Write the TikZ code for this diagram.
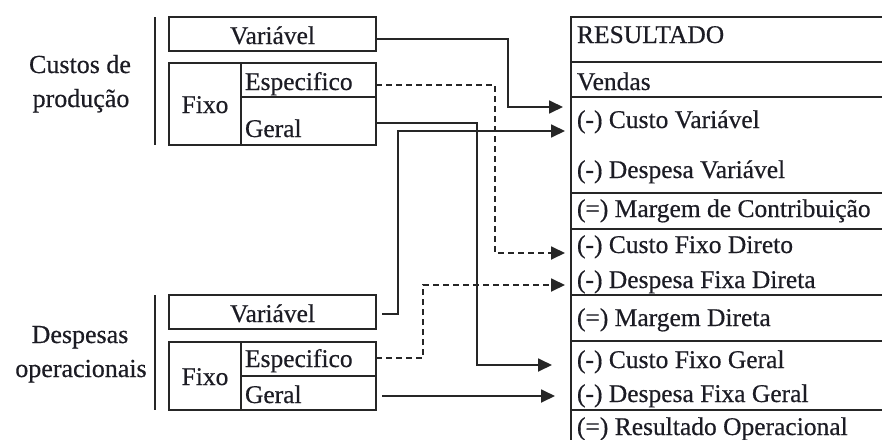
\documentclass[tikz,border=0pt]{standalone}
\usepackage{fontspec}
\setmainfont{Liberation Serif}[FakeBold=0.5]
\usetikzlibrary{arrows.meta,calc}
\definecolor{ink}{RGB}{28,28,36}
\definecolor{rulec}{RGB}{38,38,38}
\begin{document}
\begin{tikzpicture}[x=1pt,y=-1pt,
  cell/.style={draw=rulec,line width=1.8pt,inner sep=0pt,outer sep=0pt},
  txt/.style={inner sep=0pt,outer sep=0pt,text=ink,font=\fontsize{25.5}{30}\selectfont},
  lbl/.style={inner sep=0pt,outer sep=0pt,text=ink,font=\fontsize{26}{30}\selectfont},
  conn/.style={draw=rulec,line width=1.8pt,-{Triangle[length=14pt,width=13pt]}},
  dconn/.style={conn,dash pattern=on 6pt off 4pt}]
\useasboundingbox (0,0) rectangle (882,439);
\clip (0,0) rectangle (882,439);
% left labels
\node[lbl,anchor=base] (l1a) at (80,73) {Custos de};
\node[lbl,anchor=base] (l1b) at (81,107) {produção};
\node[lbl,anchor=base] (l2a) at (80,343) {Despesas};
\node[lbl,anchor=base] (l2b) at (81,377) {operacionais};
\draw[rulec,line width=1.8pt] (155,17) -- (155,145);
\draw[rulec,line width=1.8pt] (155,295) -- (155,410);
% production boxes
\node[cell,minimum width=207pt,minimum height=34pt] (cvar) at (272.5,34) {};
\node[cell,minimum width=72pt,minimum height=82pt] (cfix) at (205,104) {};
\node[cell,minimum width=135pt,minimum height=34pt] (cesp) at (308.5,80) {};
\node[cell,minimum width=135pt,minimum height=48pt] (cger) at (308.5,121) {};
\node[txt,anchor=base] (tcvar) at (272.5,44) {Variável};
\node[txt,anchor=base] (tcfix) at (205,113) {Fixo};
\node[txt,anchor=base west] (tcesp) at (245,90) {Especifico};
\node[txt,anchor=base west] (tcger) at (245,137) {Geral};
% expense boxes
\node[cell,minimum width=207pt,minimum height=34pt] (dvar) at (272.5,312) {};
\node[cell,minimum width=72pt,minimum height=68pt] (dfix) at (205,376) {};
\node[cell,minimum width=135pt,minimum height=34pt] (desp) at (308.5,359) {};
\node[cell,minimum width=135pt,minimum height=34pt] (dger) at (308.5,393) {};
\node[txt,anchor=base] (tdvar) at (272.5,322) {Variável};
\node[txt,anchor=base] (tdfix) at (205,385) {Fixo};
\node[txt,anchor=base west] (tdesp) at (245,367) {Especifico};
\node[txt,anchor=base west] (tdger) at (245,403) {Geral};
% result table rows
\node[cell,minimum width=324pt,minimum height=45pt] (r0) at (733,39.5) {};
\node[cell,minimum width=324pt,minimum height=35pt] (r1) at (733,79.5) {};
\node[cell,minimum width=324pt,minimum height=96pt] (r2) at (733,145) {};
\node[cell,minimum width=324pt,minimum height=36pt] (r3) at (733,211) {};
\node[cell,minimum width=324pt,minimum height=66pt] (r4) at (733,262) {};
\node[cell,minimum width=324pt,minimum height=46pt] (r5) at (733,318) {};
\node[cell,minimum width=324pt,minimum height=69pt] (r6) at (733,375.5) {};
\node[cell,minimum width=324pt,minimum height=60pt] (r7) at (733,440) {};
\node[txt,anchor=base west] (t0) at (577,43) {RESULTADO};
\node[txt,anchor=base west] (t1) at (577,90) {Vendas};
\node[txt,anchor=base west] (t2) at (577,128) {(-) Custo Variável};
\node[txt,anchor=base west] (t3) at (577,178) {(-) Despesa Variável};
\node[txt,anchor=base west] (t4) at (577,217) {(=) Margem de Contribuição};
\node[txt,anchor=base west] (t5) at (577,253) {(-) Custo Fixo Direto};
\node[txt,anchor=base west] (t6) at (577,288) {(-) Despesa Fixa Direta};
\node[txt,anchor=base west] (t7) at (577,326) {(=) Margem Direta};
\node[txt,anchor=base west] (t8) at (577,368) {(-) Custo Fixo Geral};
\node[txt,anchor=base west] (t9) at (577,402) {(-) Despesa Fixa Geral};
\node[txt,anchor=base west] (t10) at (577,435) {(=) Resultado Operacional};
% connectors
\draw[conn] ([yshift=-5pt]cvar.east) -- ++(132,0) |- ($(r2.north west)+(-8,10)$);
\draw[conn] ([yshift=-2pt]cger.east) -- ++(101,0) |- ($(r6.north west)+(-19,24)$);
\draw[dconn] ([yshift=-5pt]cesp.east) -- ++(119,0) |- ($(r4.north west)+(-6,24)$);
\draw[conn] ([xshift=6pt,yshift=-2pt]dvar.east) -- ++(16,0) |- ($(r2.north west)+(-6,34)$);
\draw[dconn] ([yshift=1pt]desp.east) -- ++(47,0) |- ($(r4.north west)+(-6,56)$);
\draw[conn] ([xshift=6pt,yshift=-3pt]dger.east) -- ($(r6.north west)+(-16,55)$);
\end{tikzpicture}
\end{document}
